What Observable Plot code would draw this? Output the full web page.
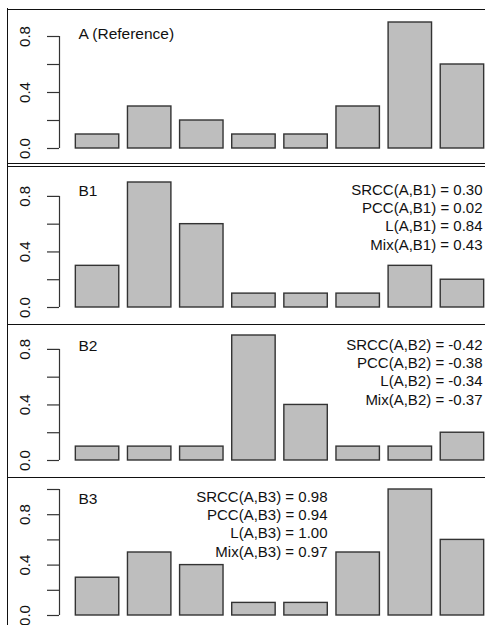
<!DOCTYPE html>
<html><head><meta charset="utf-8">
<script src="https://cdn.jsdelivr.net/npm/d3@7"></script>
<script src="https://cdn.jsdelivr.net/npm/@observablehq/plot@0.6"></script>
<style>
html,body{margin:0;padding:0;overflow:hidden;background:#fff;width:485px;height:625px;}
#wrap{position:relative;width:485px;height:625px;overflow:hidden;background:#fff;}
.panel{position:absolute;left:0;width:510px;}
.panel svg{max-width:none !important;display:block;}
.hline{position:absolute;left:7px;width:490px;height:0;border-top:1.6px solid #111;}
.vline{position:absolute;left:7px;top:8px;height:630px;width:0;border-left:1.6px solid #111;}
</style></head>
<body><div id="wrap"></div>
<script>
// ---- data ----
const barsA  = [0.1, 0.3, 0.2, 0.1, 0.1, 0.3, 0.9, 0.6];
const barsB1 = [0.3, 0.9, 0.6, 0.1, 0.1, 0.1, 0.3, 0.2];
const barsB2 = [0.1, 0.1, 0.1, 0.9, 0.4, 0.1, 0.1, 0.2];
const barsB3 = [0.3, 0.5, 0.4, 0.1, 0.1, 0.5, 1.0, 0.6];
const panelTitles = ["A (Reference)", "B1", "B2", "B3"];
const statsB1 = ["SRCC(A,B1) = 0.30", "PCC(A,B1) = 0.02", "L(A,B1) = 0.84", "Mix(A,B1) = 0.43"];
const statsB2 = ["SRCC(A,B2) = -0.42", "PCC(A,B2) = -0.38", "L(A,B2) = -0.34", "Mix(A,B2) = -0.37"];
const statsB3 = ["SRCC(A,B3) = 0.98", "PCC(A,B3) = 0.94", "L(A,B3) = 1.00", "Mix(A,B3) = 0.97"];
const yTicks09 = [0, 0.2, 0.4, 0.6, 0.8];
const yTicks10 = [0, 0.2, 0.4, 0.6, 0.8, 1.0];
const yTickLabels = [0, 0.4, 0.8];

// ---- layout ----
const FONT = "'Liberation Sans', Arial, Helvetica, sans-serif";
const layouts = [
  {values: barsA,  title: panelTitles[0], stats: null,    ticks: yTicks09, top: 9,   h: 155, mt: 13, mb: 16, tdy: 12},
  {values: barsB1, title: panelTitles[1], stats: statsB1, ticks: yTicks09, top: 166, h: 157, mt: 16, mb: 16, tdy: 9,  sAnchor: "top-right", sdx: -18, sdy: -1},
  {values: barsB2, title: panelTitles[2], stats: statsB2, ticks: yTicks09, top: 324, h: 152, mt: 11, mb: 16, tdy: 11, sAnchor: "top-right", sdx: -18, sdy: 1},
  {values: barsB3, title: panelTitles[3], stats: statsB3, ticks: yTicks10, top: 477, h: 160, mt: 12, mb: 22, tdy: 10, sAnchor: "top-left", sdx: 268, sdy: -1}
];

const wrap = document.getElementById("wrap");
const space = 0.2; // barplot spacing (fraction of bar width)

for (const L of layouts) {
  const rows = L.values.map((v, i) => ({i, v, x1: space + i * (1 + space), x2: space + i * (1 + space) + 1}));
  const lo = rows[0].x1, hi = rows[rows.length - 1].x2;
  const ext = 0.04 * (hi - lo);
  const xdom = [lo - ext, hi + ext];
  const ymax = d3.max(L.values);
  const marks = [
    Plot.rectY(rows, {x1: "x1", x2: "x2", y1: 0, y2: "v", fill: "#bebebe", stroke: "#333", strokeWidth: 1.4}),
    Plot.ruleX([xdom[0]], {y1: 0, y2: d3.max(L.ticks), stroke: "#333", strokeWidth: 1.2}),
    Plot.axisY({ticks: L.ticks, tickSize: 12, tickFormat: () => "", label: null, stroke: "#333", strokeWidth: 1.2}),
    Plot.text(yTickLabels, {y: d => d, text: d => d.toFixed(1), frameAnchor: "left", dx: -34, rotate: -90,
      textAnchor: "middle", lineAnchor: "middle", fontSize: 15, fill: "#111"}),
    Plot.text([L.title], {text: d => d, frameAnchor: "top-left", dx: 19, dy: L.tdy, textAnchor: "start",
      lineAnchor: "middle", fontSize: 15.5, fill: "#111"})
  ];
  if (L.stats) {
    marks.push(Plot.text([L.stats.join("\n")], {text: d => d, frameAnchor: L.sAnchor, dx: L.sdx, dy: L.sdy,
      textAnchor: "end", lineAnchor: "top", lineHeight: 1.23, fontSize: 15, fill: "#111"}));
  }
  const chart = Plot.plot({
    width: 501, height: L.h,
    marginLeft: 59, marginRight: 1, marginTop: L.mt, marginBottom: L.mb,
    x: {domain: xdom, axis: null},
    y: {domain: [0, ymax], axis: null, label: null},
    style: {fontFamily: FONT, fontSize: "15px", color: "#111", background: "transparent", overflow: "visible"},
    marks
  });
  const div = document.createElement("div");
  div.className = "panel";
  div.style.top = L.top + "px";
  div.appendChild(chart);
  wrap.appendChild(div);
}

// figure frame lines
for (const y of [8.5, 163, 165.5, 323.5, 476.5]) {
  const d = document.createElement("div");
  d.className = "hline"; d.style.top = y + "px";
  wrap.appendChild(d);
}
const v = document.createElement("div");
v.className = "vline";
wrap.appendChild(v);
</script>
</body></html>
